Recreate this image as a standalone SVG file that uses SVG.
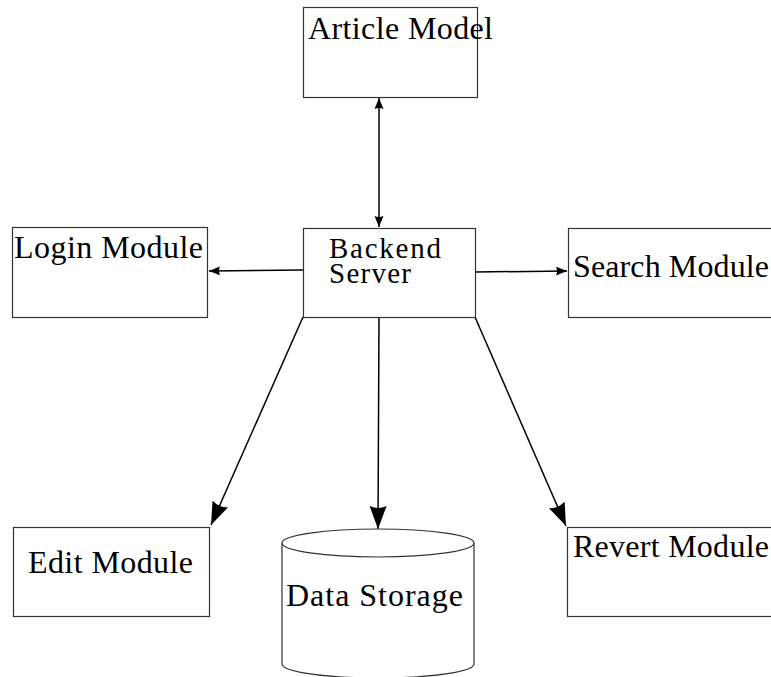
<svg xmlns="http://www.w3.org/2000/svg" width="771" height="677" viewBox="0 0 771 677">
<style>
.box{fill:#fff;stroke:#333;stroke-width:1.2}
.lbl{font-family:"Liberation Serif","Times New Roman",serif;font-size:32px;fill:#000}
.sm{font-size:29px}
.con{stroke:#000;stroke-width:1.5;fill:none}
</style>
<defs>
<marker id="sa" markerUnits="userSpaceOnUse" markerWidth="12" markerHeight="10" refX="11" refY="4.5" orient="auto-start-reverse" viewBox="0 0 12 9">
<path d="M0,0 L11,4.5 L0,9 Q2,4.5 0,0 z" fill="#000"/>
</marker>
<marker id="la" markerUnits="userSpaceOnUse" markerWidth="24" markerHeight="18" refX="23" refY="8.5" orient="auto" viewBox="0 0 24 17">
<path d="M0,0 L23,8.5 L0,17 Q4,8.5 0,0 z" fill="#000"/>
</marker>
</defs>
<g id="connectors">
<line class="con" x1="379" y1="98" x2="379" y2="227" marker-start="url(#sa)" marker-end="url(#sa)"/>
<line class="con" x1="303" y1="270" x2="209" y2="271" marker-end="url(#sa)"/>
<line class="con" x1="475" y1="272" x2="567" y2="271" marker-end="url(#sa)"/>
<line class="con" x1="303" y1="317" x2="211" y2="525" marker-end="url(#la)"/>
<line class="con" x1="379" y1="317" x2="378" y2="529" marker-end="url(#la)"/>
<line class="con" x1="475" y1="317" x2="566" y2="526" marker-end="url(#la)"/>
</g>
<g id="article-model">
<rect class="box" x="303.5" y="7.5" width="174" height="90"/>
<text class="lbl" x="308" y="39" textLength="185">Article Model</text>
</g>
<g id="backend-server">
<rect class="box" x="303.5" y="228.5" width="172" height="89"/>
<text class="lbl sm" x="329" y="258" textLength="112">Backend</text>
<text class="lbl sm" x="329" y="283" textLength="82">Server</text>
</g>
<g id="login-module">
<rect class="box" x="12.5" y="227.5" width="195" height="90"/>
<text class="lbl" x="14" y="258" textLength="189">Login Module</text>
</g>
<g id="search-module">
<rect class="box" x="568.5" y="228.5" width="210" height="89"/>
<text class="lbl" x="573" y="277" textLength="196">Search Module</text>
</g>
<g id="edit-module">
<rect class="box" x="13.5" y="527.5" width="196" height="89"/>
<text class="lbl" x="28" y="573" textLength="165">Edit Module</text>
</g>
<g id="data-storage">
<path class="box" d="M282,543 L282,664 A96,14 0 0 0 474,664 L474,543"/>
<ellipse class="box" cx="378" cy="543" rx="96" ry="14"/>
<text class="lbl" x="286" y="606" textLength="177">Data Storage</text>
</g>
<g id="revert-module">
<rect class="box" x="567.5" y="527.5" width="210" height="89"/>
<text class="lbl" x="573" y="557" textLength="196">Revert Module</text>
</g>
</svg>
